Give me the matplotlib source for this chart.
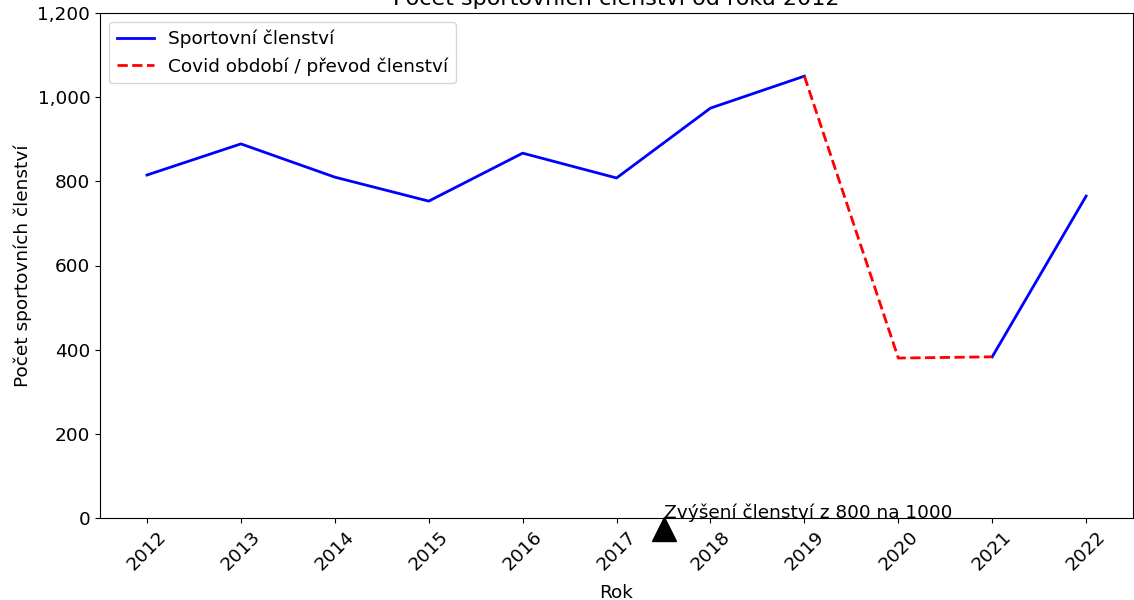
import matplotlib
matplotlib.use("Agg")
import numpy as np
import matplotlib.pyplot as plt
from matplotlib.ticker import FuncFormatter

# data
roky = [2012, 2013, 2014, 2015, 2016, 2017, 2018, 2019, 2020, 2021, 2022]
clenstvi = [815, 889, 810, 753, 867, 808, 974, 1050, 380, 383, 765]

# covid period 2019-2021
covid_roky = [2019, 2020, 2021]
covid_hodnoty = [1050, 380, 383]

popis_x = 2017.5
popis_text = "Zvýšení členství z 800 na 1000"

fs = 13.3
fig = plt.figure(figsize=(11.34, 6), dpi=100)
ax = fig.add_axes([0.0882, 0.1367, 0.911, 0.8416])

modra = np.array(clenstvi, dtype=float)
modra[8] = np.nan  # mezera 2019-2021 pres covid
ax.plot(roky, modra, color="blue", lw=2, label="Sportovní členství")
ax.plot(covid_roky, covid_hodnoty, color="red", ls="--", lw=2,
        label="Covid období / převod členství")

ax.set_xlim(2011.5, 2022.5)
ax.set_ylim(0, 1200)
ax.set_xticks(roky)
ax.set_xticklabels([str(r) for r in roky], rotation=45, fontsize=fs)
ax.tick_params(axis="y", labelsize=fs)
ax.yaxis.set_major_formatter(FuncFormatter(lambda v, p: "{:,.0f}".format(v)))

ax.set_xlabel("Rok", fontsize=fs, labelpad=7)
ax.set_ylabel("Počet sportovních členství", fontsize=fs)
ax.set_title("Počet sportovních členství od roku 2012", fontsize=16)

ax.text(popis_x, 0, popis_text, fontsize=fs, va="baseline", ha="left")
ax.plot([popis_x], [-27], marker="^", color="black", markersize=17, clip_on=False)

ax.legend(loc="upper left", fontsize=fs)

fig.savefig("out.png", dpi=100)
